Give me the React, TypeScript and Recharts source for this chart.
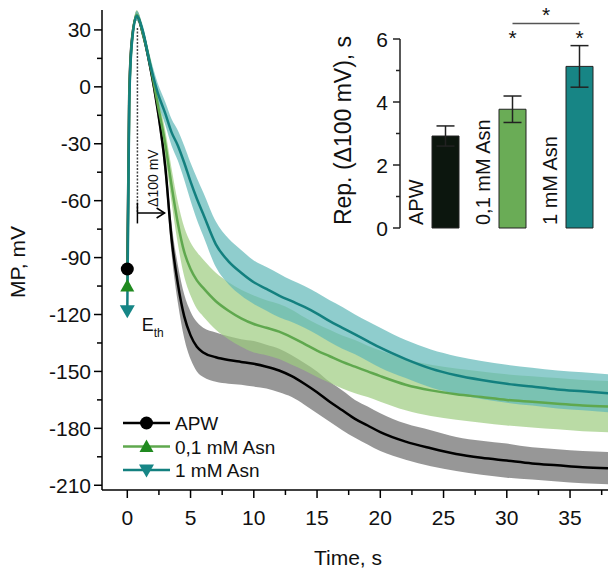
import React from 'react';
import {
  ComposedChart,
  Area,
  Line,
  XAxis,
  YAxis,
  ReferenceLine,
  ReferenceDot,
  Legend,
  BarChart,
  Bar,
  ErrorBar,
  LabelList,
  Cell
} from 'recharts';

// main traces: membrane potential (mV) vs time (s)
const time = [0, 0.15, 0.35, 0.75, 1.2, 1.8, 2.4, 3, 3.5, 4, 4.5, 5, 5.5, 6,
  7, 8, 9, 10, 11, 12, 13, 14, 15, 16, 17, 18, 19, 20,
  22, 24, 26, 28, 30, 32, 34, 36, 38];

const apwMean = [-96, -5, 24, 37.5, 29, 11, -12, -42, -80, -104, -121, -131, -137, -140,
  -142.5, -144, -145, -146, -147.5, -149.5, -152.5, -156.5, -161, -166, -170.5, -175, -178.5, -182,
  -187, -190.5, -193.5, -195.5, -197, -198.5, -199.5, -200.5, -201];
const apwSem = [1, 2, 2, 2.5, 3, 3.5, 4, 6, 8, 10, 11.5, 12.5, 13, 13,
  13, 12.5, 12, 12, 11.5, 11.5, 11, 11, 11, 10.5, 10.5, 10, 10, 10,
  9.5, 9.5, 9, 9, 9, 8.5, 8.5, 8.5, 8.5];

const asn01Mean = [-105, -8, 23, 38, 29, 12, -9, -30, -52, -72, -87, -96, -102, -106,
  -113, -118, -122, -125, -127, -129, -132, -135.5, -139, -142, -145, -147.5, -150, -152.5,
  -157, -160, -162, -163.5, -165, -166, -167, -168, -168.5];
const asn01Sem = [1, 2, 2, 2.5, 3, 4, 5, 7, 9, 11, 13, 14, 15, 15,
  15, 15, 15, 15, 14.5, 14.5, 14.5, 14, 14, 14, 14, 14, 13.5, 13.5,
  13.5, 13.5, 13.5, 13.5, 13.5, 13.5, 13.5, 13.5, 13.5];

const asn1Mean = [-118, -10, 22, 37.5, 30, 12, -3, -14, -24, -31, -40, -50, -59, -67,
  -83, -92, -98, -103, -106.5, -110, -113, -116, -119.5, -123.5, -127, -130.5, -134, -137.5,
  -143.5, -148.5, -152, -154.5, -156.5, -158, -159.5, -160.5, -161.5];
const asn1Sem = [1, 2, 2, 2.5, 3, 4, 5, 6, 7, 8, 9, 10, 11, 11.5,
  12, 12, 12, 11.5, 11.5, 11.5, 11, 11, 11, 11, 11, 10.5, 10.5, 10.5,
  10, 10, 10, 10, 10, 10, 10, 10, 10];

const xTicks = [0, 2.5, 5, 7.5, 10, 12.5, 15, 17.5, 20, 22.5, 25, 27.5, 30, 32.5, 35, 37.5];
const yTicks = [-210, -195, -180, -165, -150, -135, -120, -105, -90, -75, -60, -45, -30, -15, 0, 15, 30];

const seriesNames = ['APW', '0,1 mM Asn', '1 mM Asn'];

// inset: repolarization time for 100 mV
const groups = ['APW', '0,1 mM Asn', '1 mM Asn'];
const repMean = [2.92, 3.77, 5.13];
const repErr = [0.32, 0.42, 0.66];
const sigMarks = ['', '*', '*'];
const insetTicks = [0, 1, 2, 3, 4, 5, 6];

const FONT = '"Liberation Sans", Arial, sans-serif';
const lineColors = ['#000000', '#5fa84e', '#13807f'];
const markerColors = ['#000000', '#208a20', '#168686'];
const bandColors = ['#858585', '#9ccc7f', '#5fb8b8'];
const barColors = ['#0c160e', '#6aac56', '#178585'];

const mainData = time.map((t, i) => ({
  t,
  apw: apwMean[i],
  apwBand: [apwMean[i] - apwSem[i], apwMean[i] + apwSem[i]],
  asn01: asn01Mean[i],
  asn01Band: [asn01Mean[i] - asn01Sem[i], asn01Mean[i] + asn01Sem[i]],
  asn1: asn1Mean[i],
  asn1Band: [asn1Mean[i] - asn1Sem[i], asn1Mean[i] + asn1Sem[i]],
}));

const insetData = groups.map((name, i) => ({ name, mean: repMean[i], err: repErr[i] }));

const Marker = ({ kind, cx, cy }: { kind: number; cx: number; cy: number }) => {
  if (kind === 0) return <circle cx={cx} cy={cy} r={6.5} fill={markerColors[0]} />;
  if (kind === 1)
    return <path d={`M${cx},${cy - 7} L${cx + 7},${cy + 5.5} L${cx - 7},${cy + 5.5} Z`} fill={markerColors[1]} />;
  return <path d={`M${cx - 7.5},${cy - 5.5} L${cx + 7.5},${cy - 5.5} L${cx},${cy + 7.5} Z`} fill={markerColors[2]} />;
};

const firstDot = (kind: number) => (props: any) => {
  const { cx, cy, index } = props;
  if (index !== 0) return <g key={`d${kind}-${index}`} />;
  return <Marker key={`d${kind}-${index}`} kind={kind} cx={cx} cy={cy} />;
};

const MainYTick = (props: any) => {
  const { x, y, payload } = props;
  const major = payload.value % 30 === 0;
  return (
    <g>
      <line x1={x} x2={x - (major ? 8 : 5)} y1={y} y2={y} stroke="#000" strokeWidth={1.5} />
      {major && (
        <text x={x - 11} y={y + 7.5} textAnchor="end" fontSize={21} fill="#111">
          {payload.value}
        </text>
      )}
    </g>
  );
};

const MainXTick = (props: any) => {
  const { x, y, payload } = props;
  const major = payload.value % 5 === 0;
  return (
    <g>
      <line x1={x} x2={x} y1={y} y2={y + (major ? 8 : 5)} stroke="#000" strokeWidth={1.5} />
      {major && (
        <text x={x} y={y + 35} textAnchor="middle" fontSize={21} fill="#111">
          {payload.value}
        </text>
      )}
    </g>
  );
};

const InsetTick = (props: any) => {
  const { x, y, payload } = props;
  const major = payload.value % 2 === 0;
  return (
    <g>
      <line x1={x} x2={x - (major ? 7 : 4)} y1={y} y2={y} stroke="#222" strokeWidth={1.5} />
      {major && (
        <text x={x - 12} y={y + 7.5} textAnchor="end" fontSize={21} fill="#111">
          {payload.value}
        </text>
      )}
    </g>
  );
};

const MainLegend = () => (
  <svg width={220} height={80}>
    {seriesNames.map((name, i) => {
      const cy = 18 + i * 23.5;
      return (
        <g key={name}>
          <line x1={8} x2={55} y1={cy} y2={cy} stroke={lineColors[i]} strokeWidth={2.5} />
          <Marker kind={i} cx={31.5} cy={cy} />
          <text x={60} y={cy + 7} fontSize={19} fill="#111" fontFamily={FONT}>
            {name}
          </text>
        </g>
      );
    })}
  </svg>
);

const BarName = (props: any) => {
  const { x, y, height, value } = props;
  const bx = x - 9;
  const by = y + height - 3;
  return (
    <text x={bx} y={by} transform={`rotate(-90 ${bx} ${by})`} fontSize={20} fill="#111" textAnchor="start">
      {value}
    </text>
  );
};

export default function App() {
  return (
    <div
      style={{
        position: 'fixed',
        left: 0,
        top: 0,
        width: 608,
        height: 571,
        overflow: 'hidden',
        background: '#fff',
        fontFamily: FONT,
      }}
    >
      <ComposedChart width={608} height={571} data={mainData} margin={{ top: 10, right: 0, bottom: 0, left: 0 }}>
        <XAxis
          type="number"
          dataKey="t"
          domain={[-2, 38]}
          ticks={xTicks}
          interval={0}
          tick={<MainXTick />}
          tickLine={false}
          tickSize={0}
          tickMargin={0}
          height={81}
          axisLine={{ stroke: '#000', strokeWidth: 1.5 }}
          label={(p: any) => (
            <text
              x={p.viewBox.x + p.viewBox.width / 2 - 7}
              y={p.viewBox.y + 75}
              textAnchor="middle"
              fontSize={21}
              fill="#111"
            >
              Time, s
            </text>
          )}
        />
        <YAxis
          type="number"
          domain={[-212.5, 40.5]}
          ticks={yTicks}
          interval={0}
          tick={<MainYTick />}
          tickLine={false}
          tickSize={0}
          tickMargin={0}
          width={102}
          axisLine={{ stroke: '#000', strokeWidth: 1.5 }}
          label={(p: any) => {
            const lx = p.viewBox.x + 24.5;
            const ly = p.viewBox.y + p.viewBox.height / 2 + 12;
            return (
              <text x={lx} y={ly} transform={`rotate(-90 ${lx} ${ly})`} textAnchor="middle" fontSize={21} fill="#111">
                MP, mV
              </text>
            );
          }}
        />

        <Area type="monotone" dataKey="apwBand" stroke="none" fill={bandColors[0]} fillOpacity={0.85} isAnimationActive={false} />
        <Area type="monotone" dataKey="asn01Band" stroke="none" fill={bandColors[1]} fillOpacity={0.7} isAnimationActive={false} />
        <Area type="monotone" dataKey="asn1Band" stroke="none" fill={bandColors[2]} fillOpacity={0.7} isAnimationActive={false} />

        <Line type="monotone" dataKey="apw" stroke={lineColors[0]} strokeWidth={2.5} dot={firstDot(0)} activeDot={false} isAnimationActive={false} />
        <Line type="monotone" dataKey="asn01" stroke={lineColors[1]} strokeWidth={2.5} dot={firstDot(1)} activeDot={false} isAnimationActive={false} />
        <Line type="monotone" dataKey="asn1" stroke={lineColors[2]} strokeWidth={2.5} dot={firstDot(2)} activeDot={false} isAnimationActive={false} />

        {/* delta 100 mV marker */}
        <ReferenceLine segment={[{ x: 0.8, y: 31 }, { x: 0.8, y: -66.5 }]} stroke="#444" strokeWidth={1.5} strokeDasharray="2 1.5" />
        <ReferenceLine segment={[{ x: 0.8, y: -66.5 }, { x: 2.95, y: -66.5 }]} stroke="#000" strokeWidth={1.5} />
        <ReferenceLine segment={[{ x: 0.8, y: -61 }, { x: 0.8, y: -72 }]} stroke="#000" strokeWidth={1.5} />
        <ReferenceDot
          x={2.95}
          y={-66.5}
          shape={(p: any) => (
            <path d={`M${p.cx - 8},${p.cy - 5} L${p.cx},${p.cy} L${p.cx - 8},${p.cy + 5}`} fill="none" stroke="#000" strokeWidth={1.5} />
          )}
        />
        <ReferenceDot
          x={2.43}
          y={-63.3}
          shape={(p: any) => (
            <text x={p.cx} y={p.cy} transform={`rotate(-90 ${p.cx} ${p.cy})`} fontSize={14} fill="#111">
              Δ100 mV
            </text>
          )}
        />
        <ReferenceDot
          x={1.14}
          y={-128.7}
          shape={(p: any) => (
            <text x={p.cx} y={p.cy} fontSize={18} fill="#111" stroke="none" style={{ fill: '#111' }}>
              E
              <tspan fontSize={12} dy={6}>
                th
              </tspan>
            </text>
          )}
        />

        <Legend
          layout="vertical"
          align="center"
          verticalAlign="middle"
          wrapperStyle={{ left: 115, top: 405, width: 220, height: 80 }}
          content={() => <MainLegend />}
        />
      </ComposedChart>

      <div style={{ position: 'absolute', left: 330, top: 0 }}>
        <BarChart width={283} height={240} data={insetData} margin={{ top: 39, right: 0, bottom: 12, left: 0 }}>
          <XAxis dataKey="name" hide padding={{ left: 12, right: 0 }} />
          <YAxis
            domain={[0, 6]}
            ticks={insetTicks}
            interval={0}
            tick={<InsetTick />}
            tickLine={false}
            tickSize={0}
            tickMargin={0}
            width={70}
            axisLine={{ stroke: '#222', strokeWidth: 1.5 }}
            label={(p: any) => {
              const lx = p.viewBox.x + 21;
              const ly = p.viewBox.y + p.viewBox.height / 2 - 3;
              return (
                <text x={lx} y={ly} transform={`rotate(-90 ${lx} ${ly})`} textAnchor="middle" fontSize={23} fill="#111">
                  Rep. (Δ100 mV), s
                </text>
              );
            }}
          />
          <Bar dataKey="mean" barSize={27} stroke="#222" strokeWidth={1} isAnimationActive={false}>
            {insetData.map((d, i) => (
              <Cell key={d.name} fill={barColors[i]} />
            ))}
            <ErrorBar dataKey="err" width={9} stroke="#222" strokeWidth={1.5} direction="y" />
            <LabelList dataKey="name" content={<BarName />} />
          </Bar>
          {groups.map((g, i) =>
            sigMarks[i] ? (
              <ReferenceDot
                key={g}
                x={g}
                y={6.2}
                ifOverflow="visible"
                shape={(p: any) => (
                  <text x={p.cx} y={p.cy + 12} textAnchor="middle" fontSize={21} fill="#111">
                    {sigMarks[i]}
                  </text>
                )}
              />
            ) : null
          )}
          <ReferenceLine
            segment={[{ x: groups[1], y: 6.49 }, { x: groups[2], y: 6.49 }]}
            ifOverflow="visible"
            stroke="#555"
            strokeWidth={1.5}
            label={(p: any) => (
              <text x={p.viewBox.x + p.viewBox.width / 2} y={p.viewBox.y - 2} textAnchor="middle" fontSize={21} fill="#111">
                *
              </text>
            )}
          />
        </BarChart>
      </div>
    </div>
  );
}
